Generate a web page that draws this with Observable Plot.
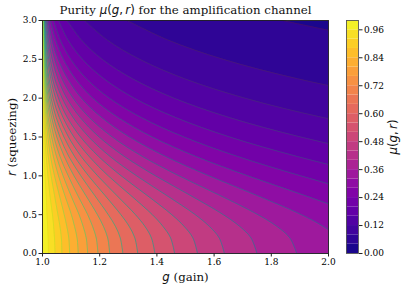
<!DOCTYPE html>
<html>
<head>
<meta charset="utf-8">
<script src="https://cdn.jsdelivr.net/npm/d3@7"></script>
<script src="https://cdn.jsdelivr.net/npm/@observablehq/plot@0.6"></script>
<style>
html,body{margin:0;padding:0;background:#fff}
#chart{display:flex;width:405px;height:290px}
svg{display:block;overflow:visible;background:transparent}
</style>
</head>
<body>
<div id="chart"></div>
<script>
const titleText = "Purity μ(g,r) for the amplification channel";
const xLabel = "g (gain)";
const yLabel = "r (squeezing)";
const barLabel = "μ(g,r)";
const xTicks = [1.0, 1.2, 1.4, 1.6, 1.8, 2.0];
const yTicks = [0, 0.5, 1.0, 1.5, 2.0, 2.5, 3.0];
const barTicks = [0, 0.12, 0.24, 0.36, 0.48, 0.60, 0.72, 0.84, 0.96];

// squeezing values at which each contour's gain was read
const rows = [0, 0.2, 0.35, 0.5, 0.75, 1, 1.25, 1.5, 1.75, 2, 2.25, 2.5, 2.75, 3];

// gain position of each purity contour at those squeezing values
const g04 = [13, 12.76, 12.28, 11.59, 10.16, 8.61, 7.13, 5.83, 4.74, 3.86, 3.15, 2.60, 2.17, 1.84];
const g08 = [6.75, 6.63, 6.39, 6.05, 5.34, 4.57, 3.84, 3.195, 2.66, 2.23, 1.892, 1.632, 1.438, 1.296];
const g12 = [4.667, 4.586, 4.428, 4.202, 3.734, 3.227, 2.747, 2.328, 1.982, 1.708, 1.497, 1.34, 1.226, 1.147];
const g16 = [3.625, 3.565, 3.448, 3.281, 2.935, 2.561, 2.208, 1.903, 1.654, 1.46, 1.315, 1.209, 1.136, 1.086];
const g20 = [3, 2.953, 2.861, 2.729, 2.457, 2.164, 1.89, 1.655, 1.466, 1.321, 1.215, 1.14, 1.089, 1.056];
const g24 = [2.583, 2.545, 2.469, 2.362, 2.14, 1.903, 1.682, 1.495, 1.346, 1.234, 1.154, 1.099, 1.062, 1.039];
const g28 = [2.286, 2.253, 2.19, 2.1, 1.915, 1.718, 1.536, 1.384, 1.265, 1.176, 1.115, 1.073, 1.046, 1.028];
const g32 = [2.063, 2.035, 1.981, 1.905, 1.748, 1.582, 1.43, 1.304, 1.207, 1.136, 1.088, 1.055, 1.034, 1.021];
const g36 = [1.889, 1.865, 1.819, 1.753, 1.619, 1.477, 1.349, 1.244, 1.164, 1.107, 1.068, 1.043, 1.027, 1.016];
const g40 = [1.75, 1.729, 1.689, 1.632, 1.516, 1.395, 1.286, 1.198, 1.132, 1.085, 1.054, 1.034, 1.021, 1.013];
const g44 = [1.636, 1.618, 1.583, 1.534, 1.433, 1.329, 1.236, 1.162, 1.107, 1.069, 1.043, 1.027, 1.017, 1.01];
const g48 = [1.542, 1.526, 1.495, 1.452, 1.365, 1.275, 1.196, 1.133, 1.087, 1.056, 1.035, 1.022, 1.013, 1.008];
const g52 = [1.462, 1.448, 1.421, 1.384, 1.308, 1.23, 1.163, 1.11, 1.072, 1.046, 1.029, 1.018, 1.011, 1.007];
const g56 = [1.393, 1.381, 1.358, 1.325, 1.259, 1.193, 1.135, 1.091, 1.059, 1.037, 1.023, 1.014, 1.009, 1.005];
const g60 = [1.333, 1.323, 1.303, 1.274, 1.218, 1.161, 1.112, 1.075, 1.048, 1.03, 1.019, 1.012, 1.007, 1.004];
const g64 = [1.281, 1.272, 1.255, 1.23, 1.182, 1.134, 1.092, 1.061, 1.039, 1.025, 1.015, 1.009, 1.006, 1.004];
const g68 = [1.235, 1.228, 1.213, 1.192, 1.151, 1.11, 1.076, 1.05, 1.032, 1.02, 1.012, 1.008, 1.005, 1.003];
const g72 = [1.194, 1.188, 1.175, 1.158, 1.123, 1.09, 1.061, 1.04, 1.026, 1.016, 1.01, 1.006, 1.004, 1.002];
const g76 = [1.158, 1.153, 1.142, 1.128, 1.099, 1.072, 1.049, 1.032, 1.02, 1.013, 1.008, 1.005, 1.003, 1.002];
const g80 = [1.125, 1.121, 1.112, 1.101, 1.078, 1.056, 1.038, 1.025, 1.016, 1.01, 1.006, 1.004, 1.002, 1.001];
const g84 = [1.095, 1.092, 1.085, 1.076, 1.059, 1.042, 1.028, 1.019, 1.012, 1.007, 1.005, 1.003, 1.002, 1.001];
const g88 = [1.068, 1.066, 1.061, 1.054, 1.042, 1.03, 1.02, 1.013, 1.008, 1.005, 1.003, 1.002, 1.001, 1.001];
const g92 = [1.044, 1.042, 1.039, 1.035, 1.026, 1.019, 1.013, 1.008, 1.005, 1.003, 1.002, 1.001, 1.001, 1];
const g96 = [1.021, 1.02, 1.018, 1.016, 1.013, 1.009, 1.006, 1.004, 1.002, 1.002, 1.001, 1.001, 1, 1];

const levels = [0.04, 0.08, 0.12, 0.16, 0.20, 0.24, 0.28, 0.32, 0.36, 0.40, 0.44, 0.48,
                0.52, 0.56, 0.60, 0.64, 0.68, 0.72, 0.76, 0.80, 0.84, 0.88, 0.92, 0.96];
const crossings = [g04, g08, g12, g16, g20, g24, g28, g32, g36, g40, g44, g48,
                   g52, g56, g60, g64, g68, g72, g76, g80, g84, g88, g92, g96];
const edges = [0, ...levels];
const bandStep = 0.04;

const serif = "'DejaVu Serif', serif";
const sans = "'DejaVu Sans', sans-serif";
const bandColor = (low) => d3.interpolatePlasma(low + bandStep / 2);
const lineColor = (lvl) => d3.interpolateViridis(lvl);

const fills = levels.map((lvl, k) => Plot.areaX(rows, {
  y: (d) => d, x1: () => 1, x2: (d, i) => crossings[k][i],
  fill: bandColor(lvl), curve: "catmull-rom", clip: true
}));
const strokes = levels.map((lvl, k) => Plot.lineX(rows, {
  y: (d) => d, x: (d, i) => crossings[k][i],
  stroke: lineColor(lvl), strokeOpacity: 0.8, strokeWidth: 0.85, curve: "catmull-rom", clip: true
}));

const main = Plot.plot({
  width: 340, height: 290,
  marginLeft: 42, marginRight: 12, marginTop: 20, marginBottom: 37,
  style: {fontFamily: serif, fontSize: "9px", background: "transparent", overflow: "visible"},
  x: {domain: [1, 2], label: null},
  y: {domain: [0, 3], label: null},
  marks: [
    Plot.frame({fill: bandColor(0), stroke: "none"}),
    ...fills,
    ...strokes,
    Plot.frame({stroke: "#222", strokeWidth: 0.9}),
    Plot.axisX(xTicks, {tickSize: 3.5, tickPadding: 2, tickFormat: (d) => d.toFixed(1), label: null, fontSize: 9, stroke: "#222"}),
    Plot.axisY(yTicks, {tickSize: 3.5, tickPadding: 2, tickFormat: (d) => d.toFixed(1), label: null, fontSize: 9, stroke: "#222"}),
    Plot.text([titleText], {frameAnchor: "top", dy: -10, fontSize: 11.8, fill: "#111", lineAnchor: "middle"}),
    Plot.text([xLabel], {frameAnchor: "bottom", dy: 24, fontSize: 11.8, fill: "#111", lineAnchor: "middle"}),
    Plot.text([yLabel], {frameAnchor: "left", dx: -30, rotate: -90, fontSize: 11.8, fill: "#111", textAnchor: "middle", lineAnchor: "middle"})
  ]
});

const bar = Plot.plot({
  width: 65, height: 290,
  marginLeft: 6, marginRight: 47, marginTop: 20, marginBottom: 37,
  style: {fontFamily: serif, fontSize: "9px", background: "transparent", overflow: "visible"},
  x: {domain: [0, 1], axis: null},
  y: {domain: [0, 1], label: null},
  marks: [
    Plot.rect(edges, {x1: () => 0, x2: () => 1, y1: (d) => d, y2: (d) => d + bandStep, fill: (d) => bandColor(d)}),
    Plot.frame({stroke: "#555", strokeWidth: 0.9}),
    Plot.axisY(barTicks, {anchor: "right", tickSize: 3.5, tickPadding: 2, tickFormat: (d) => d.toFixed(2), label: null, fontSize: 9, stroke: "#222"}),
    Plot.text([barLabel], {frameAnchor: "right", dx: 35, rotate: -90, fontSize: 11.8, fill: "#111", textAnchor: "middle", lineAnchor: "middle"})
  ]
});

// math parts of the labels are set in italic sans, as in the original
function mathify(root, whole, parts) {
  d3.select(root).selectAll("text").filter(function () { return this.textContent === whole; }).each(function () {
    const t = d3.select(this);
    t.text(null);
    for (const [str, kind] of parts) {
      const s = t.append("tspan").text(str);
      if (kind) s.attr("font-family", sans);
      if (kind === "i") s.attr("font-style", "italic");
    }
  });
}
const muParts = [["μ", "i"], ["(", "u"], ["g", "i"], [",", "u"], ["\u2009r", "i"], [")", "u"]];
mathify(main, titleText, [["Purity ", null], ...muParts, [" for the amplification channel", null]]);
mathify(main, xLabel, [["g", "i"], [" (gain)", null]]);
mathify(main, yLabel, [["r", "i"], [" (squeezing)", null]]);
mathify(bar, barLabel, muParts);

const host = document.getElementById("chart");
host.append(main, bar);
</script>
</body>
</html>
